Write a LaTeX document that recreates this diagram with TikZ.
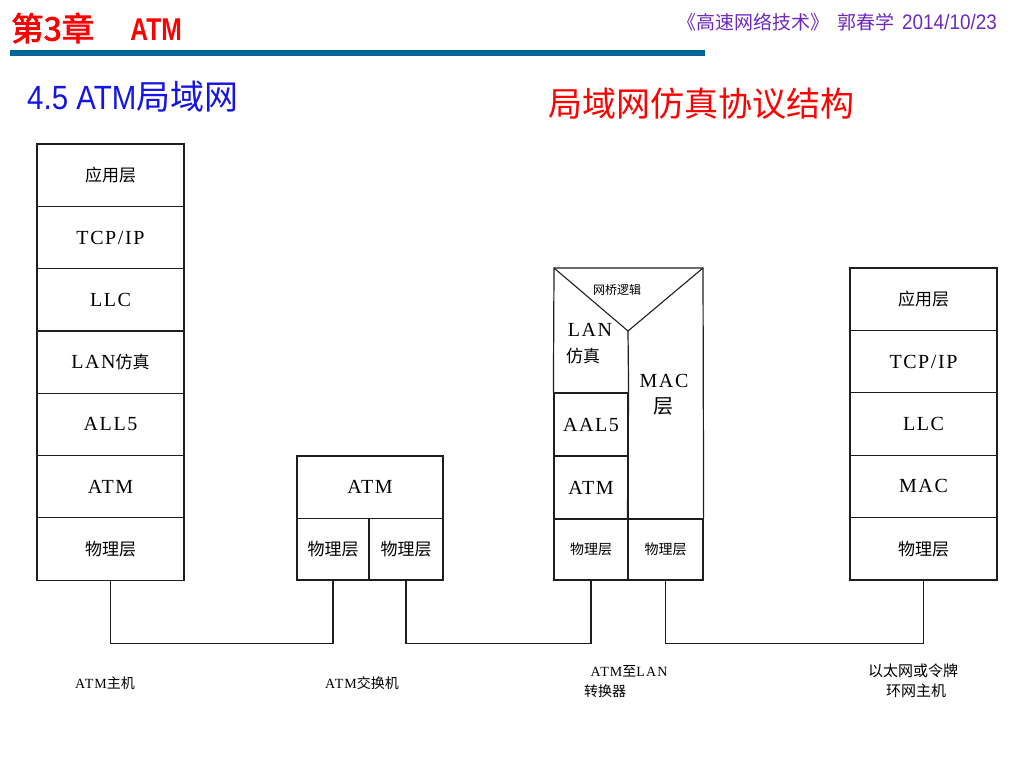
\documentclass[tikz,border=0pt]{standalone}
\usepackage{fontspec}
\usepackage{graphicx}
\setmainfont{Liberation Serif}
\newfontfamily\cjk{Noto Sans CJK SC}
\newfontfamily\cjkb[FakeBold=2.5]{Noto Sans CJK SC}
\newfontfamily\mono[LetterSpace=8]{Liberation Serif}
\newfontfamily\lsans{Liberation Sans}
\newcommand\zh[2][17]{{\cjk\fontsize{#1}{#1}\selectfont #2}}
\newcommand\mn[2][20]{{\mono\fontsize{#1}{#1}\selectfont #2}}
\definecolor{barblue}{RGB}{0,102,153}
\definecolor{titleblue}{RGB}{20,20,230}
\definecolor{hdrpurple}{RGB}{110,40,190}
\definecolor{linegray}{RGB}{30,30,30}
\tikzset{
  layer/.style={draw=linegray, line width=1.2pt, minimum width=147pt, minimum height=62.3pt, inner sep=0pt, anchor=center},
  cell/.style={draw=linegray, line width=1.2pt, inner sep=0pt, anchor=center},
  txt/.style={inner sep=0pt, anchor=center},
  wire/.style={draw=linegray, line width=1.1pt},
  lbl/.style={inner sep=0pt, anchor=center, align=center}
}
\begin{document}
\begin{tikzpicture}[x=1pt,y=-1pt]
\useasboundingbox (0,0) rectangle (1024,768);
% header
\node[txt, anchor=west, text=red] (hdr) at (11,28) {\scalebox{1.05}[1.05]{\cjkb\fontsize{31}{31}\selectfont 第3章}\hspace{36pt}\scalebox{0.82}[1.05]{\lsans\bfseries\fontsize{30}{30}\selectfont ATM}};
\node[txt, anchor=east, text=hdrpurple] (src) at (997,22) {\zh[19]{《高速网络技术》}\hspace{8pt}\zh[19]{郭春学}\hspace{8pt}\scalebox{0.9}[1]{\lsans\fontsize{21}{21}\selectfont 2014/10/23}};
\fill[barblue] (10,50) rectangle (705,56);
\node[txt, anchor=west, text=titleblue] (sec) at (27,97) {\scalebox{0.92}[1.05]{\lsans\fontsize{32}{32}\selectfont 4.5 ATM}\zh[34]{局域网}};
\node[txt, text=red] (ttl) at (701,104) {\zh[34]{局域网仿真协议结构}};

% left stack (ATM host)
\node[layer] (l1) at (110.5,175.2) {\zh{应用层}};
\node[layer] (l2) at (110.5,237.5) {\mn{TCP/IP}};
\node[layer] (l3) at (110.5,299.8) {\mn{LLC}};
\node[layer] (l4) at (110.5,362.1) {\mn{LAN}\zh{仿真}};
\node[layer] (l5) at (110.5,424.4) {\mn{ALL5}};
\node[layer] (l6) at (110.5,486.7) {\mn{ATM}};
\node[layer] (l7) at (110.5,549.0) {\zh{物理层}};

% ATM switch
\node[cell, minimum width=146pt, minimum height=62.5pt] (s1) at (370,487.2) {\mn{ATM}};
\node[cell, minimum width=72pt, minimum height=61.5pt] (s2) at (333,549.2) {\zh{物理层}};
\node[cell, minimum width=74pt, minimum height=61.5pt] (s3) at (406,549.2) {\zh{物理层}};

% ATM-to-LAN converter
\node[cell, minimum width=74pt, minimum height=63pt] (b1) at (591,424.5) {\mn{AAL5}};
\node[cell, minimum width=74pt, minimum height=63pt] (b2) at (591,487.5) {\mn{ATM}};
\node[cell, minimum width=74pt, minimum height=61pt] (b3) at (591,549.5) {\zh[14]{物理层}};
\node[cell, minimum width=75pt, minimum height=61pt] (b4) at (665.5,549.5) {\zh[14]{物理层}};
\coordinate (bnw) at (554,268);
\coordinate (bne) at (703,268);
\coordinate (bv) at (628,331);
\draw[wire, line width=1.2pt] (b1.north west) -- (bnw) -- (bne) -- (b4.north east);
\draw[wire] (bnw) -- (bv) -- (bne);
\draw[wire, line width=1.2pt] (bv) -- (b1.north east);
\draw[wire, line width=1.2pt] (b1.north east) -- (b4.north west);
\node[txt] (bl) at (617,290) {\zh[12]{网桥逻辑}};
\node[txt] (blan) at (590,330) {\mn{LAN}};
\node[txt] (bfz) at (583,356) {\zh{仿真}};
\node[txt] (bmac) at (664,381) {\mn{MAC}};
\node[txt] (bmc) at (663,406) {\zh[20]{层}};

% right stack (Ethernet / Token Ring host)
\node[layer] (r1) at (923.5,299.2) {\zh{应用层}};
\node[layer] (r2) at (923.5,361.6) {\mn{TCP/IP}};
\node[layer] (r3) at (923.5,424.0) {\mn{LLC}};
\node[layer] (r4) at (923.5,486.4) {\mn{MAC}};
\node[layer] (r5) at (923.5,548.8) {\zh{物理层}};

% links
\draw[wire] (l7.south) -- ++(0,62.5) -| (s2.south);
\draw[wire] (s3.south) -- ++(0,62.5) -| (b3.south);
\draw[wire] (b4.south) -- ++(0,62.5) -| (r5.south);

% captions
\node[lbl] (c1) at (105,683) {\mn[14]{ATM}\zh[14]{主机}};
\node[lbl] (c2) at (362,683) {\mn[14]{ATM}\zh[14]{交换机}};
\node[lbl] (c3) at (629,671) {\mn[14]{ATM}\zh[14]{至}\mn[14]{LAN}};
\node[lbl] (c3b) at (605,691) {\zh[14]{转换器}};
\node[lbl] (c4) at (913,671) {\zh[15]{以太网或令牌}};
\node[lbl] (c4b) at (916,691) {\zh[15]{环网主机}};
\end{tikzpicture}
\end{document}
